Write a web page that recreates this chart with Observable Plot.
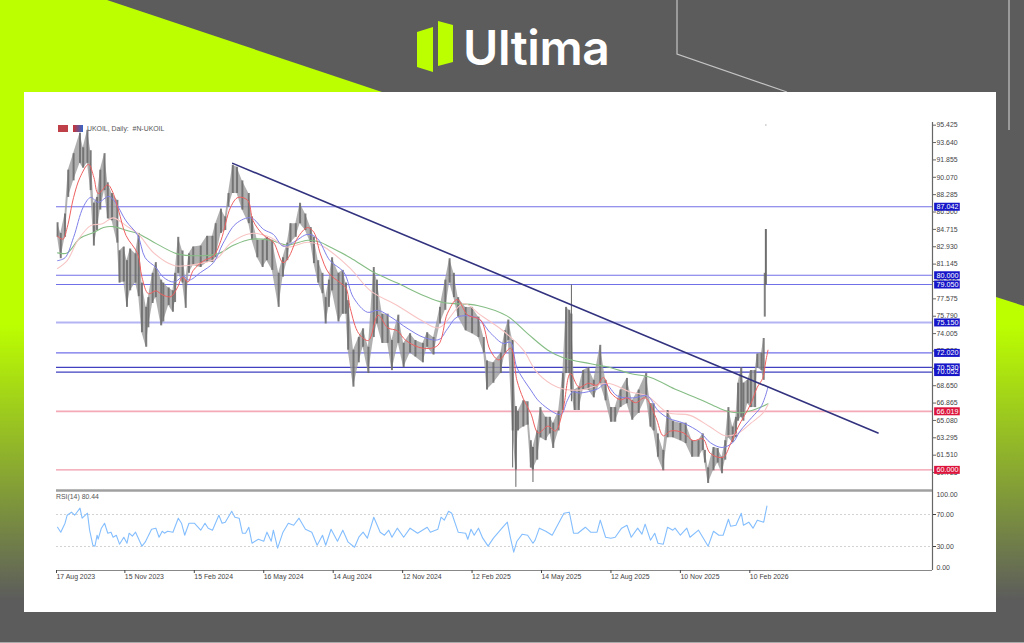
<!DOCTYPE html>
<html><head><meta charset="utf-8">
<script src="https://cdn.jsdelivr.net/npm/d3@7"></script>
<script src="https://cdn.jsdelivr.net/npm/@observablehq/plot@0.6"></script>
<style>
html,body{margin:0;padding:0;width:1024px;height:643px;overflow:hidden;background:#5c5c5c;font-family:"Liberation Sans",sans-serif}
.abs{position:absolute}
#hdr,#rsiLab{position:absolute;font:6.9px "Liberation Sans",sans-serif;color:#555;white-space:pre;line-height:8px}
</style></head><body>
<svg class="abs" style="left:0;top:0" width="1024" height="643">
 <defs>
  <linearGradient id="gl" x1="0" y1="300" x2="0" y2="600" gradientUnits="userSpaceOnUse"><stop offset="0" stop-color="#bcff00"/><stop offset="0.08" stop-color="#bcff00"/><stop offset="1" stop-color="#5c5c5c"/></linearGradient>
 </defs>
 <rect width="1024" height="643" fill="#5c5c5c"/>
 <polygon points="0,0 107,0 382,92 24,92 24,92 0,92" fill="#bcff00"/>
 <rect x="0" y="92" width="24" height="520" fill="url(#gl)"/>
 <polygon points="996,297 1024,306 1024,612 996,612" fill="url(#gl)"/>
 <polyline points="677,0 677,54 787,92" fill="none" stroke="#c4c4c4" stroke-width="1.2"/>
 <line x1="1009" y1="0" x2="1009" y2="130" stroke="#c4c4c4" stroke-width="1.2"/>
 <line x1="0" y1="642.5" x2="1024" y2="642.5" stroke="#aaa" stroke-width="1"/>
 <polygon points="417,32 433,27 433,72 417,67" fill="#bcff00"/>
 <polygon points="438,21 453,25 453,62 438,66" fill="#bcff00"/>
 <rect x="24" y="92" width="972" height="520" fill="#fff"/>
 <text x="463" y="65" font-family="Inter,'Open Sans',sans-serif" font-weight="600" font-size="48" fill="#fff" letter-spacing="-0.4">Ultima</text>
</svg>
<div class="abs" style="left:58px;top:125px;width:10px;height:7px;background:#c0404a"></div>
<div class="abs" style="left:73px;top:125px;width:10px;height:7px;background:linear-gradient(90deg,#c33,#36c)"></div>
<div id="hdr" style="left:87px;top:125px">UKOIL, Daily:  #N-UKOIL</div>
<div id="rsiLab" style="left:56px;top:493px">RSI(14) 80.44</div>
<div id="price" class="abs" style="left:0;top:0"></div>
<div id="rsi" class="abs" style="left:0;top:490px"></div>
<script>
const bars=[1,4,8,11,16,22,25,29,32,35,38,41,45,48,52,57,59,63,66,69,74,77,80,84,86,90,93,98,100,105,109,111,114,118,121,124,128,135,141,146,149,154,158,161,165,169,174,180,183,188,193,197,202,208,212,216,219,224,228,233,238,241,245,249,252,255,258,264,268,271,273,278,283,287,292,297,300,305,310,314,320,325,331,336,343,347,353,359,364,368,372,376,383,389,395,400,403,409,416,420,423,427,430,432,437,441,444,446,450,453,458,462,465,470,474,477,480,482,485,489,493,498,503,509,514,519,523,528,534,539,545,552,556,559,563,568,572,577,584,589,595,601,605,607,610,615,619,623,626,629,633,636,638,641,643,647,650,654,656,660,662,663,664];
const highs=[85.4,84.3,86.3,90.8,92.5,94.6,93.1,94.9,92.8,87.4,88,90.8,92.5,89.5,88.4,87.7,82.5,82.9,81.5,82.7,82.2,84.3,79.2,76.7,77.7,80.2,81.3,79.5,79.2,78.7,78.4,80.2,83.9,82.5,79.5,82.2,82.9,83,84,84,85.3,86.8,86,88.4,91.3,91.1,89.7,88.4,86,83.6,83.6,83.9,83.6,80.2,81.8,83.3,85.3,85.3,87.4,86.3,84.9,83.9,81.5,80.2,77.7,79.5,81.8,80.2,80.5,79.2,77.4,72.3,73.6,74.5,72.6,80.8,79.5,76,76,73.3,75.9,73,74,73.3,73,74.1,73.6,76.7,79.5,81.7,80.2,77.7,76.7,76.7,75.7,73.6,71.2,71,72,74.3,75.4,73.3,66.5,66,67.1,67,63,62.3,64,66.4,65.4,65.4,64.8,66,69.9,76.7,76.4,76,68.2,68.5,70.2,70.5,69.2,72.8,69.2,66.4,66.4,68.2,69.4,67.1,68.2,69.9,66.8,66.8,63.7,62,66.1,65,64.8,64.8,63,63,63.7,62,60.2,62.3,62.2,61.3,63,66.4,64.4,65.4,68.9,70.5,68.9,69.2,70.2,70.2,71.9,72,73.5,80.2,84.7];
const lows=[83.9,81.7,83.9,88,89.7,91.5,91,91.5,88.7,83,84.6,86.7,88.7,85.8,85.6,83.3,79.2,79.3,76.7,78.4,79.2,77.8,74.1,72.6,74.6,77.1,77.7,74.8,75.2,76.9,76.2,77.2,80.2,79.2,76.6,80.2,81,80.8,81.3,81.3,81.8,84.3,84.6,87,88.4,88.4,86.7,85.3,83.6,81.8,80.8,81.5,80.5,76.7,79.8,81.5,83.3,83.9,85.3,84.6,83.3,81.2,79.2,78.1,75,76.7,78.4,75.2,76,76,72.3,68.5,71,72.6,69.9,73.6,75,73,73,70.2,73,70.5,72,71.6,71,72.6,71.8,75,76.4,79.2,77.7,75.7,74.3,74,73.6,72,68.2,68.9,69.9,72,73.3,64,60,64,64.4,64.6,60.2,60,61,63.3,63,63.7,62.2,64,66.1,69.9,69.9,68,66.1,66.1,68.2,68.2,67.4,68.9,67.1,64.9,64.9,66.4,66.8,65.1,65.8,67.4,64.4,64,61.3,59.9,63.3,63.3,63,62.7,61.3,61.3,62,60.7,58.6,59.9,60.7,59.6,61,63.3,62.8,63.3,65,65.4,65,66.8,66.4,66.4,70.5,70.2,69.2,75.7,79];
const spikeBars=[427,430,446,482,664];
const spikeHigh=[73.3,66.5,62.3,79,84.7];
const spikeLow=[60.2,58.2,58.7,67,79];
const redBars=[1,6,10,16,22,30,35,39,48,52,58,65,76,80,86,93,99,107,113,118,123,128,138,147,154,163,170,179,184,194,203,212,217,226,235,241,247,255,266,271,275,283,292,301,310,319,327,343,357,366,375,385,397,406,414,425,431,437,444,451,460,467,474,481,489,498,506,512,519,528,534,542,551,561,568,575,587,596,605,612,624,631,638,650,656,661,664,666];
const redVals=[84,83.7,84.9,88,90.05,91.4,90.05,88.4,89.3,88.7,86.7,84.1,82.2,79.8,78.1,78.4,78,77.8,78.7,79.8,79.3,80.5,81.5,82,83.6,87,88,87.7,85.6,84.1,83.4,81.3,81.8,83.9,84.9,84.4,82.2,80.2,79.2,78.7,76.6,74,73.3,75.9,74.6,74.3,73.3,72.5,72.8,76.1,77.5,75.9,75.4,72.3,71.3,72.5,69.2,67.3,65.8,63.8,64.5,64,66.1,69.9,68.5,68.9,68.7,69.5,67.9,67.2,67.4,66.9,67.4,65.4,63.5,64,63.8,63,63.2,61.7,61.3,62.7,64.4,66.8,68.5,69.4,71.2,72.3];
const blueBars=[1,8,16,25,32,39,49,55,65,76,83,93,100,110,119,124,135,147,156,168,182,194,203,212,222,235,244,256,269,278,291,301,313,329,344,358,366,375,394,406,418,425,431,444,453,472,478,483,490,506,514,525,540,553,563,573,587,603,612,623,633,640,651,659,663,666];
const blueVals=[81.5,81.8,83.9,87,88,87.5,88.1,87.5,85.6,84.1,81.8,80.8,79.8,79.3,79.9,79.5,80.3,81.3,83.3,85.3,85.9,84.7,84.2,83,83.4,84.2,83.8,81.5,80.3,77.7,76.2,76.4,75.7,74.5,73.6,73.4,74.5,75.7,75.6,74.1,73,73.1,70.5,68.2,66.9,65.7,67.1,68,67.9,68.3,68.8,67.6,67.4,67.6,66.1,65.3,64.8,63.8,62.8,62.3,62.8,64,65.4,66.4,67.4,68.5];
const pinkBars=[1,10,20,32,43,53,65,76,91,110,123,138,151,163,182,200,216,235,247,256,275,294,319,341,358,381,397,418,437,450,469,490,516,537,553,572,593,612,626,637,650,661,666];
const pinkVals=[80.7,81.5,83.6,85.1,85.3,85.9,85.1,84.3,82.3,81,81,81.3,81.8,83.3,84.3,83.9,82.9,83.4,83.1,82.5,80.7,78.4,76.9,75.4,74.6,77.1,75.9,74.3,72.3,70,68.5,68.2,68.9,68,67.6,65.9,65.6,64.4,63.5,63.7,64.8,65.8,66.7];
const greenBars=[1,10,22,35,44,53,66,76,91,113,132,151,166,182,200,216,235,247,256,275,297,319,344,362,394,422,441,460,475,500,519,537,556,581,603,619,629,643,656,666];
const greenVals=[82.3,82.3,83.8,84.4,84.9,85,84.6,84.3,83.4,82.2,82,82.2,83.1,83.7,83.6,83.1,83.6,83.4,82.9,81.8,80.3,79.2,77.9,77.2,76.9,75.8,74,72.3,71.5,70.9,70.5,69.9,69.5,68.2,67.2,66.4,66,65.9,66.3,66.8];
const rsiBars=[1,4,8,10,14,17,22,24,29,31,34,36,38,39,42,45,48,51,53,56,59,63,66,68,71,74,80,83,89,93,96,99,101,104,109,114,117,120,124,129,135,139,142,146,152,155,158,164,167,171,174,177,180,183,189,194,197,201,203,207,212,217,222,227,233,239,244,249,252,257,263,268,273,279,283,287,291,297,303,307,311,314,319,325,331,338,347,350,357,360,363,367,370,376,383,385,388,391,395,399,404,409,417,422,425,428,431,436,441,446,448,452,458,464,469,475,480,484,488,495,500,506,509,514,519,523,529,534,538,544,548,551,556,560,563,568,572,577,579,584,590,593,601,610,615,620,624,629,631,636,641,643,648,652,656,662,665];
const rsiVals=[54.1,47.9,59.1,69.1,72.9,69.1,77.9,65.4,71.6,50.4,31.6,30.4,44.1,39.1,52.9,59.1,46.6,47.9,41.6,44.1,32.9,41.6,34.1,46.6,42.9,47.9,30.4,35.4,51.6,52.9,41.6,49.1,46.6,49.1,47.9,65.4,59.1,44.1,59.1,59.1,50.4,59.1,52.9,50.4,69.1,59.1,60.4,74.1,66.6,65.4,46.6,46.6,54.1,34.1,39.1,36.6,47.9,36.6,50.4,27.9,47.9,59.1,56.6,65.4,51.6,47.9,31.6,44.1,31.6,51.6,36.6,50.4,35.4,29.1,41.6,47.9,40.4,66.6,47.9,44.1,50.4,41.6,52.9,41.6,52.9,46.6,54.1,47.9,51.6,66.6,62.9,74.1,71.6,47.9,46.6,39.1,51.6,44.1,52.9,40.4,30.4,40.4,52.9,60.4,40.4,22.9,36.6,45.4,44.1,34.1,37.9,52.9,49.1,44.1,56.6,71.6,72.9,46.6,46.6,54.1,47.9,47.9,62.9,41.6,40.4,41.6,52.9,56.6,41.6,52.9,45.4,57.9,37.9,46.6,34.1,32.9,54.1,50.4,52.9,44.1,52.9,41.6,50.4,30.4,49.1,44.1,44.1,64.1,55.4,56.6,71.6,56.6,60.4,52.9,62.9,60.4,80.44];
const priceTicks=[95.425,93.64,91.855,90.07,88.285,86.5,84.715,82.93,81.145,79.36,77.575,75.79,74.005,72.22,70.435,68.65,66.865,65.08,63.295,61.51,59.725];
const blueLevels=[87.042,80,79.05,72.02];
const paleLevels=[75.15];
const darkLevels=[70.53,70.052];
const pinkLevels=[66.019];
const redLevels=[60];
const flagLevels=[87.042,80,79.05,75.15,72.02,70.052,70.53,66.019,60];
const flagText=["87.042","80.000","79.050","75.150","72.020","70.052","70.530","66.019","60.000"];
const flagColor=["#1616c8","#1616c8","#1616c8","#1616c8","#1616c8","#1616c8","#1616c8","#dc143c","#dc143c"];
const trendBars=[165,769];
const trendVals=[91.5,63.8];
const tickBars=[0,64,129,194,259,324,389,454,519,584,649];
const tickLabels=["17 Aug 2023","15 Nov 2023","15 Feb 2024","16 May 2024","14 Aug 2024","12 Nov 2024","12 Feb 2025","14 May 2025","12 Aug 2025","10 Nov 2025","10 Feb 2026"];
const strayBar=[664], strayVal=[95.45];
const rsiLevels=[70,30];

const barData=bars.map((b,i)=>({b,hi:highs[i],lo:lows[i]}));
const bandData=barData.filter(d=>d.b<=662);
const series=(xs,ys)=>xs.map((x,i)=>({x,y:ys[i]}));
const xDom=[0,820];
const maLine=(xs,ys,stroke,w)=>Plot.line(series(xs,ys),{x:"x",y:"y",stroke,strokeWidth:w,curve:"catmull-rom"});
const font="Liberation Sans, sans-serif";

const price=Plot.plot({
  width:1024,height:490,marginLeft:56,marginRight:92,marginTop:122,marginBottom:0,
  style:{background:"transparent",fontFamily:font,overflow:"visible"},
  x:{domain:xDom,axis:null},
  y:{domain:[57.88,95.7]},
  marks:[
    Plot.ruleY(blueLevels,{stroke:"#7070e8",strokeWidth:1.1}),
    Plot.ruleY(paleLevels,{stroke:"#b4b4f4",strokeWidth:2}),
    Plot.ruleY(darkLevels,{stroke:"#4040c0",strokeWidth:1.2}),
    Plot.ruleY(pinkLevels,{stroke:"#f4a8b8",strokeWidth:1.8}),
    Plot.ruleY(redLevels,{stroke:"#f09aaa",strokeWidth:1.1}),
    Plot.areaY(bandData,{x:"b",y1:"lo",y2:"hi",fill:"#9c9c9c",fillOpacity:0.8}),
    Plot.ruleX(barData,{x:"b",y1:"lo",y2:"hi",stroke:"#6a6a6a",strokeWidth:2,strokeOpacity:0.85}),
    Plot.ruleX(spikeBars.map((b,i)=>({b,hi:spikeHigh[i],lo:spikeLow[i]})),{x:"b",y1:"lo",y2:"hi",stroke:"#666",strokeWidth:1}),
    Plot.dot(series(strayBar,strayVal),{x:"x",y:"y",r:0.7,fill:"#aaa"}),
    maLine(greenBars,greenVals,"#85bd85",1.1),
    maLine(pinkBars,pinkVals,"#f8c4c4",1.1),
    maLine(blueBars,blueVals,"#7f7fea",1),
    maLine(redBars,redVals,"#ef6060",1),
    Plot.line(series(trendBars,trendVals),{x:"x",y:"y",stroke:"#32327f",strokeWidth:1.6}),
    Plot.ruleX([820],{stroke:"#666",strokeWidth:1.2}),
    Plot.axisY({anchor:"right",ticks:priceTicks,tickFormat:d=>d.toFixed(3),tickSize:3,tickPadding:1,fontSize:6.9,color:"#444",label:null,stroke:"#666"}),
    Plot.ruleY([57.88],{x1:0,x2:820,stroke:"#a0a0a0",strokeWidth:2.6}),
    Plot.ruleY(flagLevels,{x1:822,x2:846,stroke:(d,i)=>flagColor[i],strokeWidth:8}),
    Plot.text(flagLevels,{x:834,y:d=>d,text:(d,i)=>flagText[i],fill:"#fff",fontSize:7.2,textAnchor:"middle",lineAnchor:"middle"})
  ]
});
document.getElementById("price").append(price);

const rsi=Plot.plot({
  width:1024,height:110,marginLeft:56,marginRight:92,marginTop:0,marginBottom:30,
  style:{background:"transparent",fontFamily:font,overflow:"visible"},
  x:{domain:xDom},
  y:{domain:[0,100]},
  marks:[
    Plot.ruleY(rsiLevels,{stroke:"#c8c8c8",strokeDasharray:"2,2",strokeWidth:0.8}),
    Plot.line(series(rsiBars,rsiVals),{x:"x",y:"y",stroke:"#84beff",strokeWidth:1.1}),
    Plot.ruleX([820],{stroke:"#666",strokeWidth:1.2}),
    Plot.ruleY([0],{stroke:"#888",strokeWidth:1.2}),
    Plot.axisY({anchor:"right",ticks:[70,30],tickFormat:d=>d.toFixed(2),tickSize:3,tickPadding:1,fontSize:6.9,color:"#444",label:null}),
    Plot.axisY({anchor:"right",ticks:[100],tickFormat:d=>d.toFixed(2),tickSize:0,tickPadding:4,fontSize:6.9,color:"#444",label:null,dy:4}),
    Plot.axisY({anchor:"right",ticks:[0],tickFormat:d=>d.toFixed(2),tickSize:0,tickPadding:4,fontSize:6.9,color:"#444",label:null,dy:-3}),
    Plot.axisX({ticks:tickBars,tickFormat:d=>tickLabels[tickBars.indexOf(d)],tickSize:3,tickPadding:1,fontSize:6.9,color:"#444",textAnchor:"start",label:null,tickRotate:0})
  ]
});
document.getElementById("rsi").append(rsi);
</script>
</body></html>
